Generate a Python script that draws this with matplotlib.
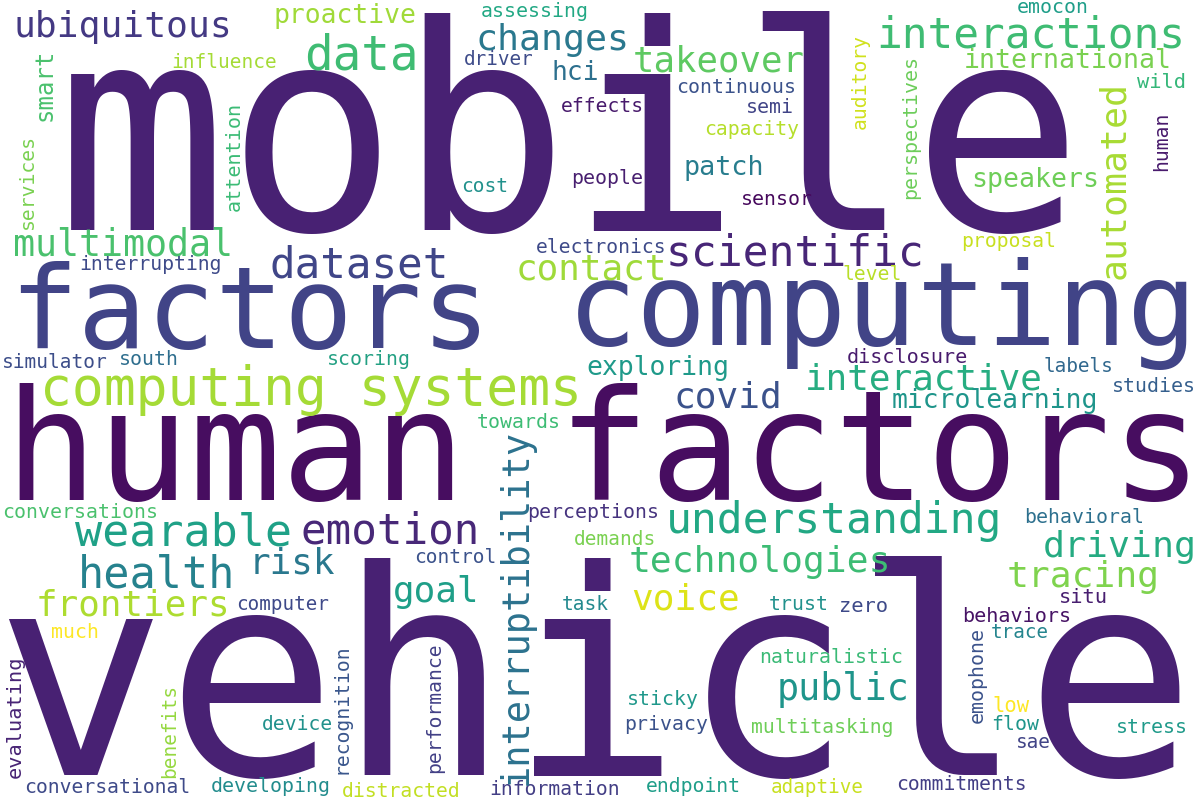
import matplotlib
matplotlib.use("Agg")
import matplotlib.pyplot as plt

# ---------------- data ----------------
# horizontal words: ink start x, ink end x, baseline y (pixel space of a 1200x800 canvas)
h_words = ["mobile", "vehicle", "human factors", "factors", "computing", "computing systems",
           "ubiquitous", "data", "proactive", "influence", "multimodal", "interrupting",
           "assessing", "changes", "takeover", "driver", "hci", "continuous", "effects", "semi",
           "capacity", "patch", "people", "cost", "sensor", "electronics", "scientific", "contact",
           "emocon", "interactions", "international", "wild", "speakers", "proposal",
           "dataset", "simulator", "south", "scoring", "conversations", "wearable", "emotion",
           "exploring", "covid", "towards", "perceptions", "understanding", "demands",
           "level", "disclosure", "interactive", "labels", "studies", "microlearning",
           "behavioral", "driving", "health", "risk", "goal", "frontiers", "computer", "much",
           "device", "conversational", "developing", "distracted", "control", "technologies",
           "voice", "task", "trust", "zero", "naturalistic", "public", "sticky", "privacy",
           "multitasking", "information", "endpoint", "adaptive", "tracing", "situ",
           "behaviors", "trace", "low", "flow", "stress", "sae", "commitments"]
h_start = [70, 8, 13, 15, 573, 43,
           15, 307, 275, 172, 15, 80,
           482, 477, 635, 465, 553, 677, 562, 747,
           705, 685, 572, 462, 742, 537, 668, 517,
           1018, 878, 965, 1138, 973, 962,
           272, 3, 120, 328, 3, 77, 303,
           588, 675, 478, 528, 668, 575,
           843, 848, 807, 1045, 1113, 893,
           1025, 1045, 80, 250, 395, 37, 237, 52,
           263, 25, 212, 343, 415, 630,
           633, 563, 770, 840, 760, 778, 628, 625,
           752, 490, 647, 772, 1008, 1060,
           963, 992, 993, 992, 1117, 1017, 897]
h_end = [1070, 1182, 1195, 485, 1192, 580,
         230, 417, 415, 276, 232, 221,
         588, 627, 803, 533, 598, 795, 643, 793,
         798, 763, 642, 507, 812, 665, 923, 665,
         1088, 1183, 1170, 1185, 1098, 1055,
         447, 107, 178, 410, 157, 290, 478,
         728, 780, 560, 658, 1000, 655,
         900, 967, 1042, 1113, 1195, 1097,
         1143, 1195, 233, 333, 478, 228, 328, 98,
         332, 190, 330, 460, 495, 888,
         738, 608, 828, 887, 902, 907, 698, 707,
         893, 618, 740, 863, 1157, 1107,
         1070, 1048, 1028, 1038, 1187, 1050, 1025]
h_base = [230, 775, 500, 348, 345, 405,
          37, 70, 23, 68, 255, 270,
          17, 50, 72, 65, 80, 93, 112, 113,
          135, 175, 184, 192, 205, 253, 266, 280,
          13, 47, 68, 88, 187, 247,
          277, 368, 365, 365, 518, 545, 543,
          375, 407, 428, 518, 533, 545,
          280, 363, 390, 372, 392, 408,
          523, 557, 588, 573, 602, 615, 610, 638,
          730, 793, 792, 797, 563, 572,
          610, 610, 610, 612, 663, 700, 705, 730,
          733, 795, 792, 793, 587, 603,
          622, 638, 712, 730, 733, 748, 790]
h_colors = ["#482173", "#482173", "#470d60", "#414487", "#414487", "#a5db36",
            "#443983", "#3fbc73", "#a0da39", "#a5db36", "#4ac16d", "#3e4a89",
            "#22a884", "#2a788e", "#5ec962", "#3e4c8a", "#2d708e", "#3b528b", "#481a6c", "#414487",
            "#b5de2b", "#287d8e", "#481f70", "#21918c", "#46085c", "#3e4a89", "#482677", "#9fda3a",
            "#1f9e89", "#3fbc73", "#7ad151", "#35b779", "#6ece58", "#c8e020",
            "#404688", "#3d4e8a", "#2e6e8e", "#23a083", "#4ac16d", "#1fa187", "#482878",
            "#1f9a8a", "#3b528b", "#3dbc74", "#46337f", "#22a884", "#7ad151",
            "#b8de29", "#481b6d", "#27ad81", "#31688e", "#355f8d", "#1f958b",
            "#2d708e", "#25ab82", "#26828e", "#2a788e", "#1f9f88", "#addc30", "#3e4989", "#fde725",
            "#21918c", "#3e4a89", "#228c8d", "#c2df23", "#3b528b", "#3dbc74",
            "#dde318", "#23898e", "#21918c", "#3e4a89", "#3aba76", "#1f958b", "#1f988b", "#3b528b",
            "#6ece58", "#433e85", "#1f9e89", "#c8e020", "#7fd34e", "#481f70",
            "#471365", "#25858e", "#fde725", "#1f958b", "#1f9a8a", "#414487", "#433e85"]

# vertical words (read bottom to top): ink bottom y, ink top y, baseline x
v_words = ["smart", "services", "attention", "auditory", "perspectives", "automated", "human",
           "interruptibility", "evaluating", "benefits", "recognition", "performance", "emophone"]
v_start = [120, 228, 210, 128, 198, 277, 170, 783, 777, 777, 773, 772, 722]
v_end = [50, 135, 103, 35, 55, 83, 113, 430, 657, 685, 645, 643, 628]
v_base = [52, 33, 240, 866, 916, 1124, 1167, 527, 21, 175, 347, 440, 983]
v_colors = ["#4ac16d", "#7ad151", "#3bbb75", "#d0e11c", "#6ccd5a", "#a8db34", "#481a6c",
            "#2c728e", "#482475", "#95d840", "#39568c", "#424086", "#3b528b"]

# ---------------- drawing ----------------
W, H, DPI = 1200, 800, 100
FONT = "DejaVu Sans Mono"
ADV = 0.602

fig = plt.figure(figsize=(W / DPI, H / DPI), dpi=DPI)
fig.patch.set_facecolor("white")
ax = fig.add_axes([0, 0, 1, 1])
ax.set_xlim(0, W)
ax.set_ylim(H, 0)
ax.axis("off")


def em_size(word, length):
    return length / (ADV * len(word) - 0.1)


for w, a, b, base, c in zip(h_words, h_start, h_end, h_base, h_colors):
    s = em_size(w, b - a)
    ax.text(a - 0.05 * s, base, w, fontsize=s * 72 / DPI, family=FONT, color=c,
            ha="left", va="baseline", rotation=0, rotation_mode="anchor")

for w, a, b, base, c in zip(v_words, v_start, v_end, v_base, v_colors):
    s = em_size(w, a - b)
    ax.text(base, a + 0.05 * s, w, fontsize=s * 72 / DPI, family=FONT, color=c,
            ha="left", va="baseline", rotation=90, rotation_mode="anchor")

fig.savefig("out.png", dpi=DPI, facecolor="white")
